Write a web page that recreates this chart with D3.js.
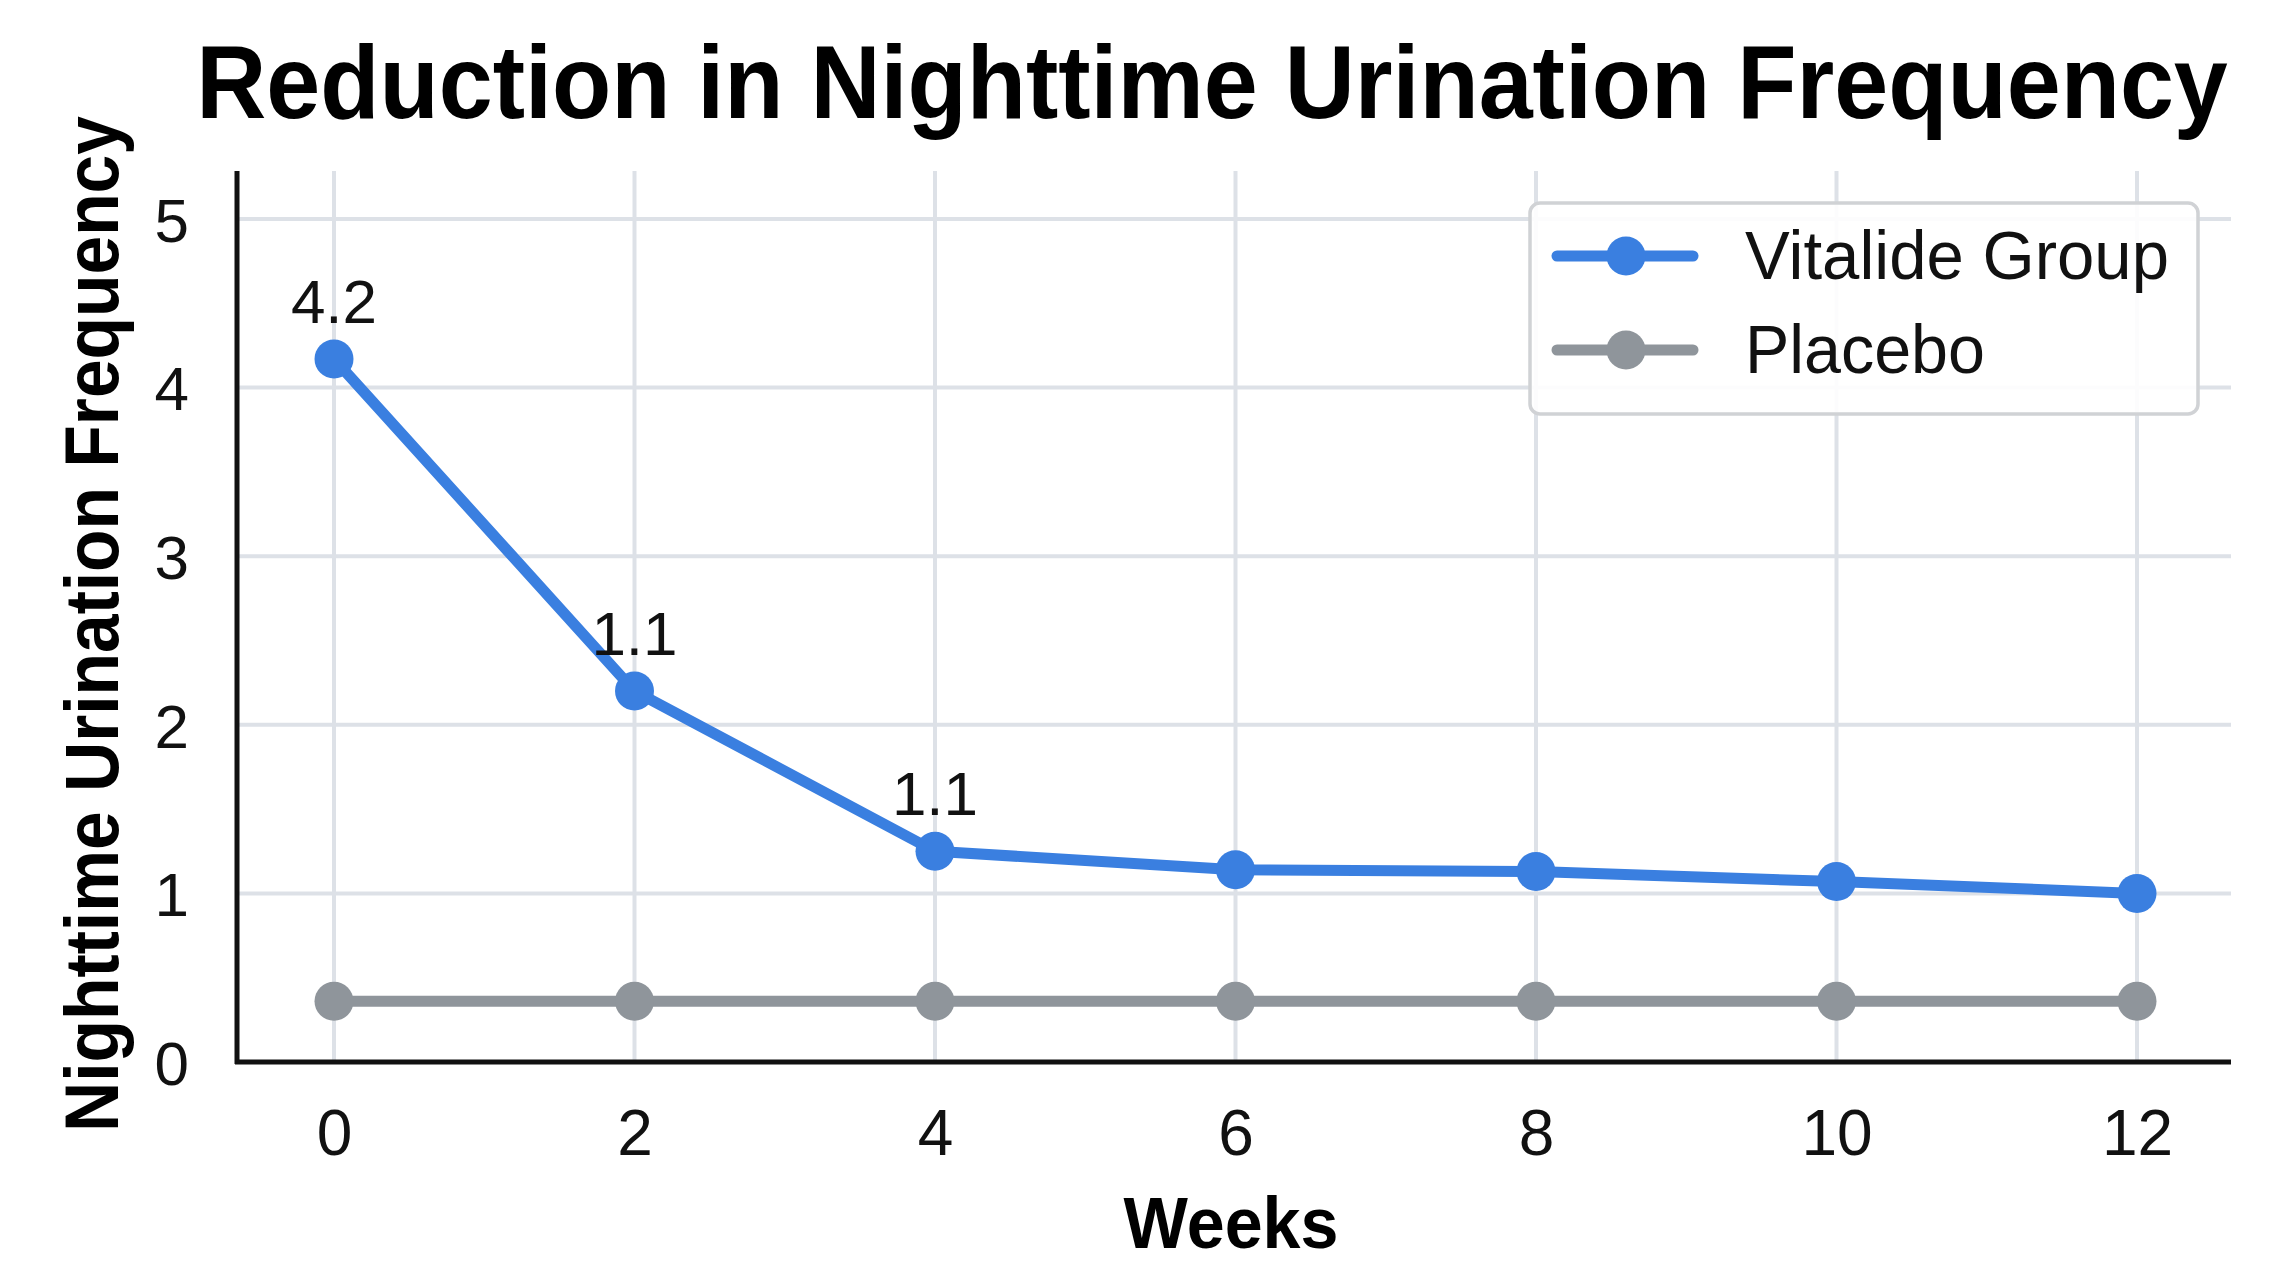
<!DOCTYPE html>
<html><head><meta charset="utf-8">
<script src="https://cdn.jsdelivr.net/npm/d3@7"></script>
<style>html,body{margin:0;padding:0;background:#fff;}svg{display:block;font-family:"Liberation Sans",Arial,sans-serif;}</style>
</head><body>
<svg id="c" width="2276" height="1280"></svg>
<script>
const weeks = [0, 2, 4, 6, 8, 10, 12];
const vitalide = [4.17, 2.2, 1.25, 1.14, 1.13, 1.07, 1.0];
const placebo = [0.36, 0.36, 0.36, 0.36, 0.36, 0.36, 0.36];
const pointLabels = [{i:0, text:"4.2"}, {i:1, text:"1.1"}, {i:2, text:"1.1"}];
const yTicks = [0, 1, 2, 3, 4, 5];
const xTicks = [0, 2, 4, 6, 8, 10, 12];
const seriesNames = ["Vitalide Group", "Placebo"];
const colors = ["#3a7fe0", "#8f959b"];

(function(){
const svg = d3.select("#c");
const x = d3.scaleLinear().domain([0, 12]).range([334, 2137]);
const y = d3.scaleLinear().domain([0, 5]).range([1062, 219]);
const pl = 237, pr = 2231, pt = 171, pb = 1062;

// grid
const grid = svg.append("g").attr("stroke", "#dde1e7").attr("stroke-width", 4);
yTicks.filter(d => d > 0).forEach(t => grid.append("line").attr("x1", pl).attr("x2", pr).attr("y1", y(t)).attr("y2", y(t)));
xTicks.forEach(t => grid.append("line").attr("x1", x(t)).attr("x2", x(t)).attr("y1", pt).attr("y2", pb));

// axes
const yAxis = svg.append("g").attr("transform", `translate(${pl},0)`)
  .call(d3.axisLeft(y).tickValues(yTicks).tickFormat(d3.format("d")).tickSize(0).tickPadding(48));
yAxis.select(".domain").remove();
yAxis.selectAll("text").attr("font-size", 62).attr("fill", "#111").attr("font-family", "Liberation Sans, Arial, sans-serif").attr("dy", "0.36em");
const xAxis = svg.append("g").attr("transform", `translate(0,${pb})`)
  .call(d3.axisBottom(x).tickValues(xTicks).tickFormat(d3.format("d")).tickSize(0).tickPadding(48));
xAxis.select(".domain").remove();
xAxis.selectAll("text").attr("font-size", 64).attr("fill", "#111").attr("font-family", "Liberation Sans, Arial, sans-serif");

svg.append("line").attr("x1", pl).attr("x2", pl).attr("y1", pt).attr("y2", pb + 2).attr("stroke", "#111").attr("stroke-width", 5);
svg.append("line").attr("x1", pl - 2).attr("x2", pr).attr("y1", pb).attr("y2", pb).attr("stroke", "#111").attr("stroke-width", 5);

// lines
const line = d3.line().x((d, i) => x(weeks[i])).y(d => y(d));
[placebo, vitalide].forEach((s, k) => {
  const c = k === 0 ? colors[1] : colors[0];
  svg.append("path").datum(s).attr("d", line).attr("fill", "none").attr("stroke", c).attr("stroke-width", 11).attr("stroke-linejoin", "round");
  svg.append("g").selectAll("circle").data(s).join("circle")
    .attr("cx", (d, i) => x(weeks[i])).attr("cy", d => y(d)).attr("r", 19.5).attr("fill", c);
});

// point labels
svg.append("g").selectAll("text").data(pointLabels).join("text")
  .attr("x", d => x(weeks[d.i])).attr("y", d => y(vitalide[d.i]) - 36)
  .attr("text-anchor", "middle").attr("font-size", 62).attr("fill", "#111").text(d => d.text);

// legend
const lg = svg.append("g");
lg.append("rect").attr("x", 1530).attr("y", 203).attr("width", 668).attr("height", 211).attr("rx", 10)
  .attr("fill", "#fff").attr("fill-opacity", 0.9).attr("stroke", "#d0d2d5").attr("stroke-width", 3.5);
seriesNames.forEach((n, k) => {
  const cy = 256 + k * 94;
  lg.append("line").attr("x1", 1557).attr("x2", 1693).attr("y1", cy).attr("y2", cy).attr("stroke", colors[k]).attr("stroke-width", 11).attr("stroke-linecap", "round");
  lg.append("circle").attr("cx", 1626).attr("cy", cy).attr("r", 19.5).attr("fill", colors[k]);
  lg.append("text").attr("x", 1745).attr("y", cy + 23).attr("font-size", 68).attr("fill", "#111")
    .attr("textLength", k === 0 ? 424 : 240).attr("lengthAdjust", "spacingAndGlyphs").text(n);
});

// squeeze text horizontally via transform so its real box matches the target width
function squeezed(txt, cx, cyBase, size, targetW, rotate) {
  const g = svg.append("g");
  const t = g.append("text").attr("text-anchor", "middle").attr("font-size", size).attr("font-weight", "bold").attr("fill", "#000").text(txt);
  const w = t.node().getComputedTextLength();
  const sx = Math.min(1, targetW / w);
  g.attr("transform", `translate(${cx},${cyBase})` + (rotate ? " rotate(-90)" : "") + ` scale(${sx},1)`);
}
squeezed("Reduction in Nighttime Urination Frequency", 1212, 118, 104, 2032, false);
squeezed("Weeks", 1231, 1248, 72, 215, false);
squeezed("Nighttime Urination Frequency", 118, 624, 76, 1016, true);
})();
</script>
</body></html>
